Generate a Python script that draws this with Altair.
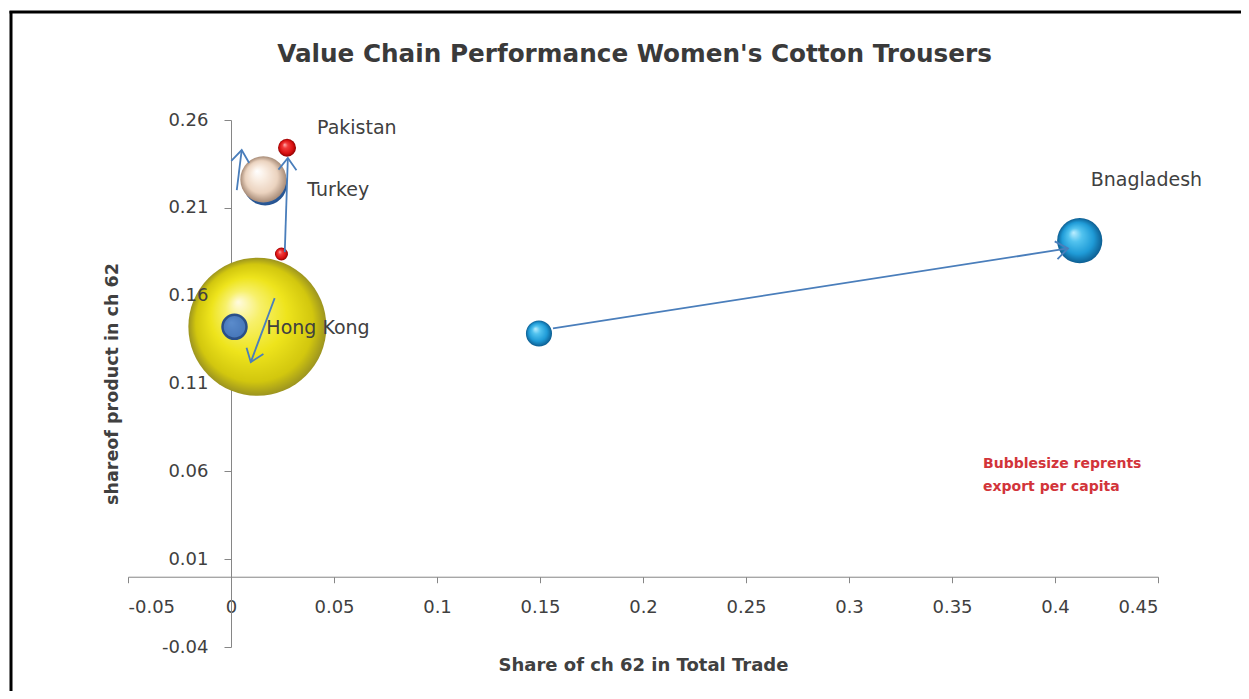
import math
import altair as alt
import pandas as pd

# ---------------- data ----------------
bubble_id = ["HK_now", "HK_before", "TR_before", "TR_now", "PK_before", "PK_now", "BD_before", "BD_now"]
bubble_x = [0.0128, 0.0017, 0.0166, 0.0157, 0.0245, 0.0272, 0.1495, 0.4120]   # share of ch 62 in total trade
bubble_y = [0.1423, 0.1423, 0.2238, 0.2262, 0.1837, 0.2442, 0.1385, 0.1913]   # share of product in ch 62
bubble_value = [47.6, 1.44, 4.8, 5.3, 0.42, 0.81, 1.7, 5.1]                   # export per capita (relative)
bubble_style = ["yellow", "navy", "blue", "beige", "red", "red", "sky", "sky"]
bubble_label = ["Hong Kong", "", "", "Turkey", "", "Pakistan", "", "Bnagladesh"]

arrow_x1 = [0.0028, 0.0261, 0.0212, 0.1563]
arrow_y1 = [0.2201, 0.1848, 0.1586, 0.1414]
arrow_x2 = [0.0052, 0.0276, 0.0096, 0.4063]
arrow_y2 = [0.2429, 0.2384, 0.1222, 0.1869]

x_ticks = [-0.05, 0, 0.05, 0.1, 0.15, 0.2, 0.25, 0.3, 0.35, 0.4, 0.45]
y_ticks = [-0.04, 0.01, 0.06, 0.11, 0.16, 0.21, 0.26]

title_text = "Value Chain Performance Women's Cotton Trousers"
x_title = "Share of ch 62 in Total Trade"
y_title = "shareof product in ch 62"
note_lines = ["Bubblesize reprents", "export per capita"]

# ---------------- layout ----------------
W, H = 1030, 527
PAD = {"left": 120, "top": 112, "right": 83, "bottom": 44}
X_DOM = [-0.05, 0.45]
Y_DOM = [-0.04, 0.26]
FONT = "DejaVu Sans"
AXIS_GRAY = "#868686"
TEXT_GRAY = "#404040"
ARROW_BLUE = "#4a7ebb"

bubbles = pd.DataFrame({
    "id": bubble_id, "x": bubble_x, "y": bubble_y, "value": bubble_value,
    "style": bubble_style, "label": bubble_label,
})

kx = W / (X_DOM[1] - X_DOM[0])
ky = H / (Y_DOM[1] - Y_DOM[0])
angles = []
for a, b, c, d in zip(arrow_x1, arrow_y1, arrow_x2, arrow_y2):
    angles.append(math.degrees(math.atan2((c - a) * kx, (d - b) * ky)) % 360)
arrows = pd.DataFrame({"x1": arrow_x1, "y1": arrow_y1, "x2": arrow_x2, "y2": arrow_y2, "angle": angles})

x_scale = alt.Scale(domain=X_DOM, nice=False, zero=False)
y_scale = alt.Scale(domain=Y_DOM, nice=False, zero=False)
y_offset = -(W * (0 - X_DOM[0]) / (X_DOM[1] - X_DOM[0]))

x_axis = alt.Axis(
    values=x_ticks, offset=-(H * (0 - Y_DOM[0]) / (Y_DOM[1] - Y_DOM[0])),
    labelExpr="(datum.value < 0 ? '-' : '') + format(abs(datum.value), '~g')",
    grid=False, domainColor=AXIS_GRAY, tickColor=AXIS_GRAY, tickSize=6,
    labelFont=FONT, labelFontSize=18, labelColor=TEXT_GRAY, labelPadding=16,
    title=x_title, titleFont=FONT, titleFontSize=18, titleFontWeight="bold",
    titleColor=TEXT_GRAY, titlePadding=40,
)
# y axis line and ticks: drawn behind the bubbles
y_axis_line = alt.Axis(
    orient="left", values=y_ticks, offset=y_offset, labels=False, title=None,
    grid=False, domainColor=AXIS_GRAY, tickColor=AXIS_GRAY, tickSize=7, zindex=0,
)
# y axis labels and title: drawn above the bubbles
y_axis_labels = alt.Axis(
    orient="left", values=y_ticks, offset=y_offset,
    labelExpr="(datum.value < 0 ? '-' : '') + format(abs(datum.value), '.2f')",
    grid=False, domainOpacity=0, tickOpacity=0, tickSize=7, zindex=1,
    labelFont=FONT, labelFontSize=18, labelColor=TEXT_GRAY, labelPadding=16,
    title=y_title, titleFont=FONT, titleFontSize=17.5, titleFontWeight="bold",
    titleColor=TEXT_GRAY, titlePadding=40,
)


def radial(stops, fx=0.36, fy=0.32):
    return {
        "gradient": "radial", "x1": fx, "y1": fy, "r1": 0,
        "x2": 0.5, "y2": 0.5, "r2": 0.5,
        "stops": [{"offset": o, "color": c} for o, c in stops],
    }


fills = {
    "yellow": radial([(0, "#fffbe0"), (0.25, "#f7f06a"), (0.55, "#eee41c"), (0.85, "#d2c70e"), (1, "#9c9420")]),
    "navy": radial([(0, "#5b8ccc"), (1, "#4676b8")]),
    "blue": radial([(0, "#6f9be0"), (0.6, "#3f72b8"), (1, "#24528f")]),
    "beige": radial([(0, "#ffffff"), (0.3, "#f9ede2"), (0.7, "#ebd3bf"), (1, "#a88c78")]),
    "red": radial([(0, "#ffb3b3"), (0.3, "#f23b3b"), (0.75, "#d81010"), (1, "#8c0000")]),
    "sky": radial([(0, "#bdeeff"), (0.3, "#52c3ef"), (0.7, "#1f9bd7"), (1, "#0d5e92")]),
}

size_scale = alt.Scale(type="linear", domain=[0, 50], range=[0, 20000])

X = alt.X("x:Q", scale=x_scale, axis=x_axis)
Y = alt.Y("y:Q", scale=y_scale, axis=y_axis_line)

base = alt.Chart(bubbles)
layers = []
for style in ["yellow", "navy", "blue", "beige", "red", "sky"]:
    extra = {}
    if style == "navy":
        extra = {"stroke": "#2a4f88", "strokeWidth": 2.5}
    layers.append(
        base.transform_filter(alt.datum.style == style)
        .mark_circle(fill=fills[style], opacity=1, **extra)
        .encode(x=X, y=Y, size=alt.Size("value:Q", scale=size_scale, legend=None))
    )

arrow_base = alt.Chart(arrows)
shafts = arrow_base.mark_rule(color=ARROW_BLUE, strokeWidth=1.8).encode(
    x=alt.X("x1:Q", scale=x_scale, axis=x_axis),
    y=alt.Y("y1:Q", scale=y_scale, axis=y_axis_line),
    x2="x2:Q", y2="y2:Q",
)
heads = arrow_base.mark_point(
    shape="M -0.75 1 L 0 0 L 0.75 1", filled=False, stroke=ARROW_BLUE,
    strokeWidth=1.8, size=576, opacity=1,
).encode(
    x=alt.X("x2:Q", scale=x_scale, axis=x_axis),
    y=alt.Y("y2:Q", scale=y_scale, axis=y_axis_line),
    angle=alt.Angle("angle:Q", scale=None),
)

label_offsets = {"Pakistan": (30, -20), "Turkey": (44, 11), "Hong Kong": (9, 1), "Bnagladesh": (11, -61)}
labels = []
for name, (dx, dy) in label_offsets.items():
    labels.append(
        base.transform_filter(alt.datum.label == name)
        .mark_text(align="left", baseline="middle", dx=dx, dy=dy, font=FONT,
                   fontSize=19, color=TEXT_GRAY)
        .encode(x=X, y=Y, text="label:N")
    )

one = alt.Data(values=[{}])
note = alt.Chart(one).mark_text(
    align="left", baseline="middle", font=FONT, fontSize=14, fontWeight="bold",
    color="#d2343a", lineHeight=23,
).encode(x=alt.value(855), y=alt.value(343.5), text=alt.value(note_lines))

title_mark = alt.Chart(one).mark_text(
    align="center", baseline="alphabetic", font=FONT, fontSize=24.7,
    fontWeight="bold", color="#3a3a3a",
).encode(x=alt.value(506.5), y=alt.value(-58), text=alt.value(title_text))

frame_v = alt.Chart(one).mark_rule(color="black", strokeWidth=3).encode(
    x=alt.value(-117), y=alt.value(-109), y2=alt.value(H + PAD["bottom"] + 5))
frame_h = alt.Chart(one).mark_rule(color="black", strokeWidth=3).encode(
    x=alt.value(-118.5), x2=alt.value(W + PAD["right"] + 5), y=alt.value(-108))

main = alt.layer(*layers, shafts, heads, *labels, note, title_mark, frame_v, frame_h)

# invisible layer that only carries the y-axis labels (drawn on top of the bubbles)
label_axis_layer = base.mark_point(opacity=0).encode(
    y=alt.Y("y:Q", scale=y_scale, axis=y_axis_labels)
)

chart = alt.layer(main, label_axis_layer).resolve_scale(y="independent").properties(
    width=W, height=H,
    autosize=alt.AutoSizeParams(type="none"),
    padding=PAD,
    background="white",
).configure_view(stroke="transparent", strokeWidth=0)

chart.save("out.html", embed_options={"renderer": "svg", "actions": False})
